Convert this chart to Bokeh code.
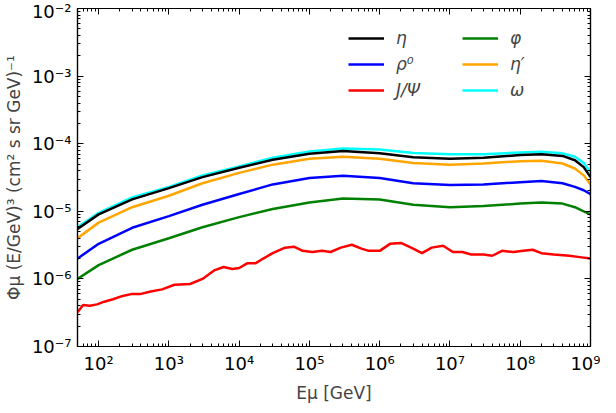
import numpy as np
from bokeh.plotting import figure
from bokeh.models import LogAxis, FixedTicker, Legend, LegendItem
from bokeh.embed import file_html
from bokeh.resources import INLINE

# energies (GeV) and fluxes
E = [50, 100, 300, 1e3, 3e3, 1e4, 3e4, 1e5, 3e5, 1e6, 3e6, 1e7, 3e7, 1e8, 2e8, 4e8, 6e8, 8e8, 1e9]
eta = [5.5e-6, 9e-6, 1.5e-5, 2.2e-5, 3.2e-5, 4.4e-5, 5.8e-5, 7.1e-5, 7.8e-5, 7.2e-5, 6.3e-5, 6.0e-5, 6.2e-5, 6.8e-5, 7.0e-5, 6.6e-5, 5.7e-5, 4.5e-5, 3.2e-5]
omega = [5.8e-6, 9.5e-6, 1.6e-5, 2.3e-5, 3.4e-5, 4.6e-5, 6.2e-5, 7.7e-5, 8.5e-5, 8.2e-5, 7.3e-5, 7.0e-5, 7.0e-5, 7.4e-5, 7.6e-5, 7.2e-5, 6.4e-5, 5.2e-5, 3.8e-5]
etap = [4.0e-6, 6.8e-6, 1.15e-5, 1.7e-5, 2.6e-5, 3.7e-5, 4.9e-5, 6.0e-5, 6.4e-5, 6.0e-5, 5.2e-5, 4.9e-5, 5.1e-5, 5.5e-5, 5.6e-5, 5.1e-5, 4.3e-5, 3.4e-5, 2.5e-5]
rho = [2.0e-6, 3.3e-6, 5.7e-6, 8.5e-6, 1.25e-5, 1.8e-5, 2.5e-5, 3.1e-5, 3.35e-5, 3.1e-5, 2.6e-5, 2.45e-5, 2.5e-5, 2.7e-5, 2.8e-5, 2.6e-5, 2.3e-5, 2.05e-5, 1.8e-5]
phi = [1.0e-6, 1.6e-6, 2.7e-6, 4.0e-6, 5.8e-6, 8.2e-6, 1.08e-5, 1.35e-5, 1.55e-5, 1.5e-5, 1.25e-5, 1.15e-5, 1.2e-5, 1.3e-5, 1.35e-5, 1.3e-5, 1.15e-5, 1.0e-5, 9e-6]
E_jpsi = [50, 60, 75, 95, 120, 160, 220, 300, 400, 550, 800, 1.2e3, 2e3, 3e3, 4.5e3, 6e3, 8e3, 1e4, 1.3e4, 1.7e4, 2.2e4, 3e4, 4.5e4, 6e4, 8e4, 1.1e5, 1.5e5, 2e5, 2.8e5, 4e5, 5.5e5, 7e5, 1e6, 1.4e6, 2e6, 2.8e6, 4e6, 5.5e6, 8e6, 1.1e7, 1.5e7, 2e7, 3e7, 4e7, 5.5e7, 8e7, 1.1e8, 1.5e8, 2e8, 3e8, 5e8, 7e8, 1e9]
jpsi = [3.2e-7, 4.1e-7, 4.0e-7, 4.2e-7, 4.6e-7, 5.0e-7, 5.6e-7, 6.0e-7, 6.0e-7, 6.5e-7, 7.0e-7, 8.2e-7, 8.4e-7, 1.0e-6, 1.35e-6, 1.5e-6, 1.4e-6, 1.45e-6, 1.7e-6, 1.7e-6, 2.0e-6, 2.4e-6, 2.9e-6, 3.0e-6, 2.6e-6, 2.5e-6, 2.6e-6, 2.5e-6, 2.9e-6, 3.2e-6, 2.8e-6, 2.6e-6, 2.6e-6, 3.3e-6, 3.4e-6, 2.9e-6, 2.4e-6, 2.9e-6, 3.1e-6, 2.5e-6, 2.5e-6, 2.3e-6, 2.3e-6, 2.2e-6, 2.6e-6, 2.5e-6, 2.6e-6, 2.7e-6, 2.4e-6, 2.3e-6, 2.2e-6, 2.1e-6, 2.0e-6]

xticks = [10.0 ** k for k in range(2, 10)]
xlabels = ["10²", "10³", "10⁴", "10⁵", "10⁶", "10⁷", "10⁸", "10⁹"]
yticks = [10.0 ** k for k in range(-7, -1)]
ylabels = ["10⁻⁷", "10⁻⁶", "10⁻⁵", "10⁻⁴", "10⁻³", "10⁻²"]

FONT = "DejaVu Sans"

p = figure(width=600, height=405, x_axis_type="log", y_axis_type="log",
           x_range=(50, 1e9), y_range=(1e-7, 1e-2), output_backend="svg",
           toolbar_location=None, min_border_left=10, min_border_right=10,
           min_border_top=8, min_border_bottom=0)
p.grid.visible = False
p.outline_line_color = "black"
p.outline_line_width = 1.2

xminor = [m * 10.0 ** k for k in range(1, 9) for m in range(2, 10)]
yminor = [m * 10.0 ** k for k in range(-8, -2) for m in range(2, 10)]

def style(ax, ticks, minor, labels, show):
    ax.ticker = FixedTicker(ticks=ticks, minor_ticks=minor)
    ax.major_tick_in = 6
    ax.major_tick_out = 0
    ax.minor_tick_in = 3
    ax.minor_tick_out = 0
    ax.axis_line_width = 1.2
    ax.major_label_text_font = FONT
    ax.major_label_text_font_size = "18px"
    ax.major_label_text_color = "black"
    ax.major_label_standoff = 6
    ax.axis_label_text_font = FONT
    ax.axis_label_text_font_size = "17px"
    ax.axis_label_text_font_style = "normal"
    if show:
        ax.major_label_overrides = {t: l for t, l in zip(ticks, labels)}
    else:
        ax.major_label_text_color = None
        ax.major_label_standoff = 0

style(p.xaxis[0], xticks, xminor, xlabels, True)
style(p.yaxis[0], yticks, yminor, ylabels, True)
p.xaxis[0].axis_label = "Eμ [GeV]"
p.xaxis[0].axis_label_standoff = 6
p.yaxis[0].axis_label = "Φμ (E/GeV)³ (cm² s sr GeV)⁻¹"
top = LogAxis()
style(top, xticks, xminor, xlabels, False)
p.add_layout(top, "above")
right = LogAxis()
style(right, yticks, yminor, ylabels, False)
p.add_layout(right, "right")

series = [("η", E, eta, "black"), ("ρ⁰", E, rho, "blue"), ("J/Ψ", E_jpsi, jpsi, "red"),
          ("φ", E, phi, "green"), ("η′", E, etap, "orange"), ("ω", E, omega, "cyan")]
renderers = {}
for name, x, y, c in [series[5], series[0], series[4], series[1], series[3], series[2]]:
    renderers[name] = p.line(x, y, line_color=c, line_width=2.5)

items = [LegendItem(label=n, renderers=[renderers[n]]) for n, _, _, _ in series]
legend = Legend(items=items, location="top_right", ncols=2, border_line_alpha=0,
                background_fill_alpha=0, label_text_font=FONT, label_text_font_size="17px",
                label_text_font_style="italic", glyph_width=36, label_standoff=12,
                spacing=6, margin=10, label_width=60)
p.add_layout(legend)

open("out.html", "w").write(file_html(p, INLINE))
